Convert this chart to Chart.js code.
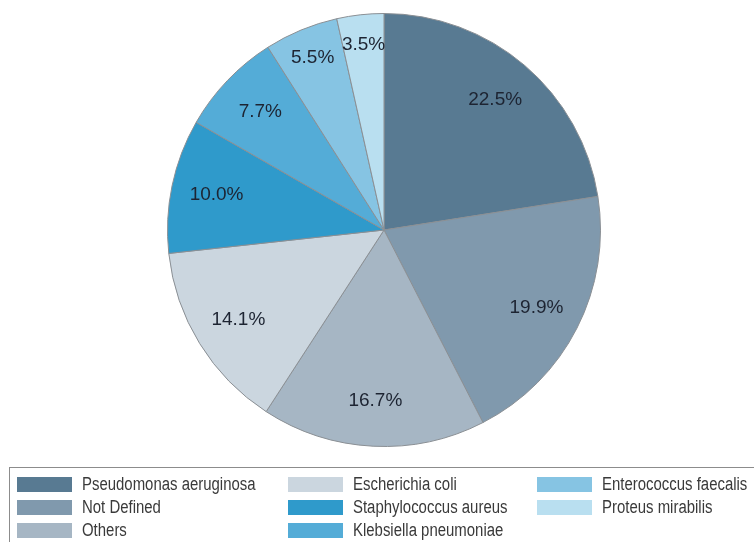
<!DOCTYPE html>
<html lang="en">
<head>
  <meta charset="UTF-8">
  <title>Pathogens</title>
  <script src="https://cdn.jsdelivr.net/npm/chart.js"></script>
  <style>
    body {
      margin: 0;
      background: #fff;
      width: 754px;
      height: 542px;
      overflow: hidden;
      position: relative;
      font-family: 'Liberation Sans', Arial, sans-serif;
    }

    #wrap {
      position: absolute;
      left: 0;
      top: 0;
      width: 754px;
      height: 542px;
    }

    .legend-box {
      position: absolute;
      left: 9px;
      top: 467px;
      width: 780px;
      height: 100px;
      border: 1px solid #8c8c8c;
      box-sizing: border-box;
    }

    .legend {
      position: absolute;
      left: 17px;
      top: 473px;
      display: grid;
      grid-auto-flow: column;
      grid-template-rows: repeat(3, 23px);
      grid-template-columns: 271px 249px 220px;
    }

    .legend-item {
      display: flex;
      align-items: center;
      white-space: nowrap;
      font-size: 18px;
      color: #3a3a3a;
    }

    .legend-item i {
      flex: 0 0 55px;
      height: 15px;
      margin-right: 10px;
    }

    /* narrow face is not available, squeeze the regular one */
    .legend-item span {
      display: inline-block;
      transform: scaleX(0.83);
      transform-origin: left center;
    }
  </style>
</head>
<body>
  <div id="wrap"><canvas id="pie"></canvas></div>
  <div class="legend-box"></div>
  <div class="legend" id="legend"></div>

  <script>
    const organisms = [
      'Pseudomonas aeruginosa', 'Not Defined', 'Others', 'Escherichia coli',
      'Staphylococcus aureus', 'Klebsiella pneumoniae', 'Enterococcus faecalis', 'Proteus mirabilis'
    ];
    const shares = [22.5, 19.9, 16.7, 14.1, 10.0, 7.7, 5.5, 3.5];
    const sliceColors = [
      '#587a92', '#8099ad', '#a6b6c4', '#cbd6df',
      '#2f9acb', '#54acd7', '#86c4e3', '#b9dff0'
    ];

    // percent text inside each slice
    const sliceLabels = {
      id: 'sliceLabels',
      afterDatasetsDraw(chart) {
        const ctx = chart.ctx;
        const meta = chart.getDatasetMeta(0);
        ctx.save();
        ctx.font = '19px "Liberation Sans", Arial, sans-serif';
        ctx.fillStyle = '#1d2432';
        ctx.textAlign = 'center';
        ctx.textBaseline = 'middle';
        meta.data.forEach((arc, i) => {
          const p = arc.getProps(['x', 'y', 'startAngle', 'endAngle', 'outerRadius']);
          const mid = (p.startAngle + p.endAngle) / 2;
          const k = shares[i] < 6 ? 0.86 : 0.79;
          const x = p.x + Math.cos(mid) * p.outerRadius * k;
          const y = p.y + Math.sin(mid) * p.outerRadius * k;
          ctx.fillText(shares[i].toFixed(1) + '%', x, y);
        });
        ctx.restore();
      }
    };

    const chart = new Chart(document.getElementById('pie'), {
      type: 'pie',
      data: {
        labels: organisms,
        datasets: [{
          data: shares,
          backgroundColor: sliceColors,
          borderColor: '#8a8f94',
          borderWidth: 1
        }]
      },
      options: {
        responsive: true,
        maintainAspectRatio: false,
        animation: false,
        layout: { padding: { top: 13, bottom: 95, left: 167, right: 153 } },
        plugins: {
          legend: { display: false },
          tooltip: { enabled: false }
        }
      },
      plugins: [sliceLabels]
    });

    // legend in columns, filled top to bottom
    const legend = document.getElementById('legend');
    organisms.forEach((name, i) => {
      const item = document.createElement('div');
      item.className = 'legend-item';
      item.innerHTML = `<i style="background:${sliceColors[i]}"></i><span>${name}</span>`;
      legend.appendChild(item);
    });
  </script>
</body>
</html>
